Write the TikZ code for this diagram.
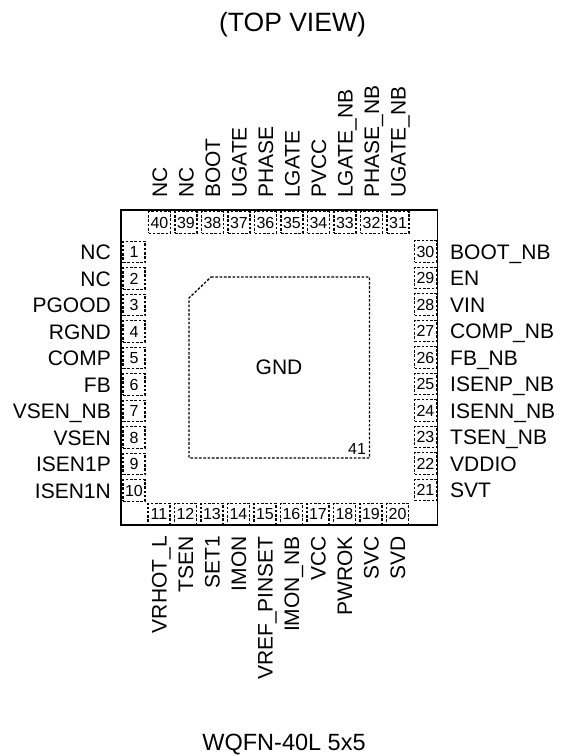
\documentclass[tikz,border=0pt]{standalone}
\usepackage{fontspec}
\setmainfont{Liberation Sans}
\begin{document}
\begin{tikzpicture}[x=1pt,y=-1pt,
  pad/.style={draw,dash pattern=on 2.6pt off 1.7pt,line width=1.3pt,inner sep=0pt,minimum width=22pt,minimum height=21.5pt,font=\fontsize{16}{16}\selectfont},
  pin/.style={inner sep=0pt,text height=15pt,text depth=0pt,font=\fontsize{21}{21}\selectfont}]
\useasboundingbox (0,0) rectangle (565,756);
\draw[line width=1.3pt] (121,210) -- (437.5,210) -- (437.5,525) -- (121,525) -- cycle;
\node[pin,font=\fontsize{26.5}{26.5}\selectfont,text height=19pt] (title) at (292.5,22) {(TOP VIEW)};
\node[pin,font=\fontsize{23.5}{23.5}\selectfont,text height=17pt] (pkg) at (284,742) {WQFN-40L 5x5};
% left side
\foreach \n/\s [count=\i from 0] in {1/NC,2/NC,3/PGOOD,4/RGND,5/COMP,6/FB,7/VSEN\_NB,8/VSEN,9/ISEN1P,10/ISEN1N} {
  \node[pad] (p\n) at (134,252+26.5*\i) {\n};
  \node[pin,anchor=east] (l\n) at (111,252+26.5*\i) {\s};
}
% bottom side
\foreach \n/\s [count=\i from 0] in {11/VRHOT\_L,12/TSEN,13/SET1,14/IMON,15/VREF\_PINSET,16/IMON\_NB,17/VCC,18/PWROK,19/SVC,20/SVD} {
  \node[pad] (p\n) at (159+26.5*\i,514) {\n};
  \node[pin,rotate=90,anchor=east] (l\n) at (159+26.5*\i,536) {\s};
}
% right side
\foreach \n/\s [count=\i from 0] in {21/SVT,22/VDDIO,23/TSEN\_NB,24/ISENN\_NB,25/ISENP\_NB,26/FB\_NB,27/COMP\_NB,28/VIN,29/EN,30/BOOT\_NB} {
  \node[pad] (p\n) at (425.5,490-26.5*\i) {\n};
  \node[pin,anchor=west] (l\n) at (450,490-26.5*\i) {\s};
}
% top side
\foreach \n/\s [count=\i from 0] in {31/UGATE\_NB,32/PHASE\_NB,33/LGATE\_NB,34/PVCC,35/LGATE,36/PHASE,37/UGATE,38/BOOT,39/NC,40/NC} {
  \node[pad] (p\n) at (398-26.5*\i,222.5) {\n};
  \node[pin,rotate=90,anchor=west] (l\n) at (398-26.5*\i,198) {\s};
}
% thermal pad
\draw[dash pattern=on 2.6pt off 1.7pt,line width=1.3pt] (211,277) -- (369.5,277) -- (369.5,458) -- (189,458) -- (189,298) -- cycle;
\node[pin] (gnd) at (279,367) {GND};
\node[pin,font=\fontsize{16}{16}\selectfont,text height=11.5pt] (p41) at (357,448.5) {41};
\end{tikzpicture}
\end{document}
